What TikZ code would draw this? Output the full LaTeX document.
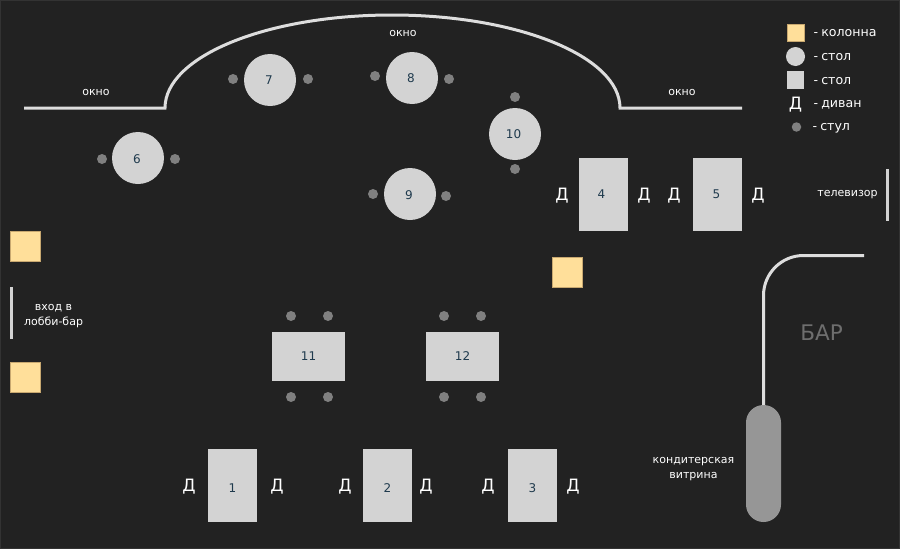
\documentclass[tikz,border=0pt]{standalone}
\usepackage{fontspec}
\setmainfont{DejaVu Sans}
\definecolor{bg}{HTML}{222222}
\definecolor{edge}{HTML}{333333}
\definecolor{tbl}{HTML}{D3D3D3}
\definecolor{wall}{HTML}{DDDDDD}
\definecolor{chr}{HTML}{808080}
\definecolor{col}{HTML}{FFDF9A}
\definecolor{coledge}{HTML}{C8A870}
\definecolor{num}{HTML}{1F3A4D}
\definecolor{vit}{HTML}{969696}
\definecolor{barc}{HTML}{6E6E6E}
\newcommand{\nudged}[3]{\raisebox{#2pt}[8.9pt][0pt]{\makebox[0pt]{\hspace*{#1pt}#3}}}
\tikzset{
  x=1pt,y=-1pt,
  rtable/.style={fill=tbl,draw=none,inner sep=0pt,text=num,font=\fontsize{12}{12}\selectfont},
  vtable/.style={rtable,minimum width=49pt,minimum height=73pt},
  htable/.style={rtable,minimum width=73pt,minimum height=49pt},
  ctable/.style={rtable,circle,minimum size=52pt},
  chairdot/.style={circle,fill=chr,draw=none,inner sep=0pt,minimum size=10pt},
  column/.style={fill=col,draw=coledge,line width=.8pt,inner sep=0pt,minimum size=30pt},
  sofa/.style={text=white,inner sep=0pt,font=\fontsize{17}{17}\selectfont},
  label/.style={text=white,inner sep=0pt,align=center,font=\fontsize{11}{14.5}\selectfont},
  legend/.style={text=white,inner sep=0pt,anchor=west,font=\fontsize{12.6}{14}\selectfont},
  wallline/.style={draw=wall,line width=3pt},
  door/.style={draw=tbl,line width=3pt},
}
\begin{document}
\begin{tikzpicture}
\useasboundingbox (0,0) rectangle (900,549);
\fill[bg] (0,0) rectangle (900,549);
\draw[edge,line width=1pt] (0.5,0.5) rectangle (899.5,548.5);

% window wall
\coordinate (wa) at (24,108);
\coordinate (wb) at (165,108);
\coordinate (wc) at (392,15);
\coordinate (wd) at (620,108);
\coordinate (we) at (742,108);
\draw[wallline] (wa) -- (wb) .. controls (165,56.6) and (266,15) .. (wc) .. controls (518,15) and (620,56.6) .. (wd) -- (we);
\node[label] (ow1) at (96,92.5) {окно};
\node[label] (ow2) at (403,33.5) {окно};
\node[label] (ow3) at (682,92.5) {окно};

% round tables
\node[ctable] (t6) at (138,158) {\nudged{-2}{-1}{6}};
\node[ctable] (t7) at (270,80) {\nudged{-2}{0}{7}};
\node[ctable] (t8) at (412,78) {\nudged{-2}{0}{8}};
\node[ctable] (t9) at (410,194) {\nudged{-2}{-1}{9}};
\node[ctable] (t10) at (515,134) {\nudged{-3}{0}{10}};
\node[chairdot] (c6a) at (102,159) {};
\node[chairdot] (c6b) at (175,159) {};
\node[chairdot] (c7a) at (233,79) {};
\node[chairdot] (c7b) at (308,79) {};
\node[chairdot] (c8a) at (375,76) {};
\node[chairdot] (c8b) at (449,79) {};
\node[chairdot] (c9a) at (373,194) {};
\node[chairdot] (c9b) at (446,196) {};
\node[chairdot] (c10a) at (515,97) {};
\node[chairdot] (c10b) at (515,169) {};

% tables with sofas
\node[vtable] (t1) at (232.5,485.5) {\nudged{0}{-3}{1}};
\node[vtable] (t2) at (387.5,485.5) {\nudged{0}{-3}{2}};
\node[vtable] (t3) at (532.5,485.5) {\nudged{0}{-3}{3}};
\node[vtable] (t4) at (603.5,194.5) {\nudged{-4}{0}{4}};
\node[vtable] (t5) at (717.5,194.5) {\nudged{-2}{0}{5}};
\node[sofa] (s1a) at (189,487) {Д};
\node[sofa] (s1b) at (277,487) {Д};
\node[sofa] (s2a) at (345,487) {Д};
\node[sofa] (s2b) at (426,487) {Д};
\node[sofa] (s3a) at (488,487) {Д};
\node[sofa] (s3b) at (573,487) {Д};
\node[sofa] (s4a) at (562,196) {Д};
\node[sofa] (s4b) at (644,196) {Д};
\node[sofa] (s5a) at (674,196) {Д};
\node[sofa] (s5b) at (758,196) {Д};

% tables with chairs
\node[htable] (t11) at (308.5,356.5) {11};
\node[htable] (t12) at (462.5,356.5) {12};
\node[chairdot] (c11a) at (291,316) {};
\node[chairdot] (c11b) at (328,316) {};
\node[chairdot] (c11c) at (291,397) {};
\node[chairdot] (c11d) at (328,397) {};
\node[chairdot] (c12a) at (444,316) {};
\node[chairdot] (c12b) at (481,316) {};
\node[chairdot] (c12c) at (444,397) {};
\node[chairdot] (c12d) at (481,397) {};

% columns
\node[column] (k1) at (25.5,246) {};
\node[column] (k2) at (25.5,377) {};
\node[column] (k3) at (567.5,272) {};

% entrance and TV
\coordinate (ea) at (11.5,287);
\coordinate (eb) at (11.5,339);
\draw[door] (ea) -- (eb);
\node[label] (entr) at (53.5,316) {вход в\\лобби-бар};
\coordinate (tva) at (887.5,169);
\coordinate (tvb) at (887.5,221);
\draw[door] (tva) -- (tvb);
\node[label] (tv) at (847.5,195) {телевизор};

% bar
\coordinate (ba) at (864,255.5);
\coordinate (bb) at (763.5,255.5);
\node[fill=vit,draw=none,rounded corners=17.5pt,minimum width=35pt,minimum height=117pt,inner sep=0pt] (vitr) at (763.5,463.5) {};
\draw[wallline,rounded corners=40pt] (ba) -- (bb) -- (vitr.north);
\node[text=barc,inner sep=0pt,font=\fontsize{21.5}{21}\selectfont] (bar) at (821.5,333) {БАР};
\node[label] (vitl) at (693.5,469) {кондитерская\\витрина};

% legend
\node[column,minimum size=17pt] (lg1) at (795.5,32.5) {};
\node[legend] (lt1) at (813.5,33.5) {-\hspace{-1pt} колонна};
\node[ctable,minimum size=19pt] (lg2) at (795.5,56.5) {};
\node[legend] (lt2) at (813.5,57.5) {-\hspace{-1pt} стол};
\node[rtable,minimum size=17.5pt] (lg3) at (795.5,80) {};
\node[legend] (lt3) at (813.5,81.5) {-\hspace{-1pt} стол};
\node[sofa] (lg4) at (795.5,105) {Д};
\node[legend] (lt4) at (813.5,105) {-\hspace{-1pt} диван};
\node[chairdot,minimum size=9.5pt] (lg5) at (796.5,127) {};
\node[legend] (lt5) at (812.5,128.5) {-\hspace{-1pt} стул};
\end{tikzpicture}
\end{document}
